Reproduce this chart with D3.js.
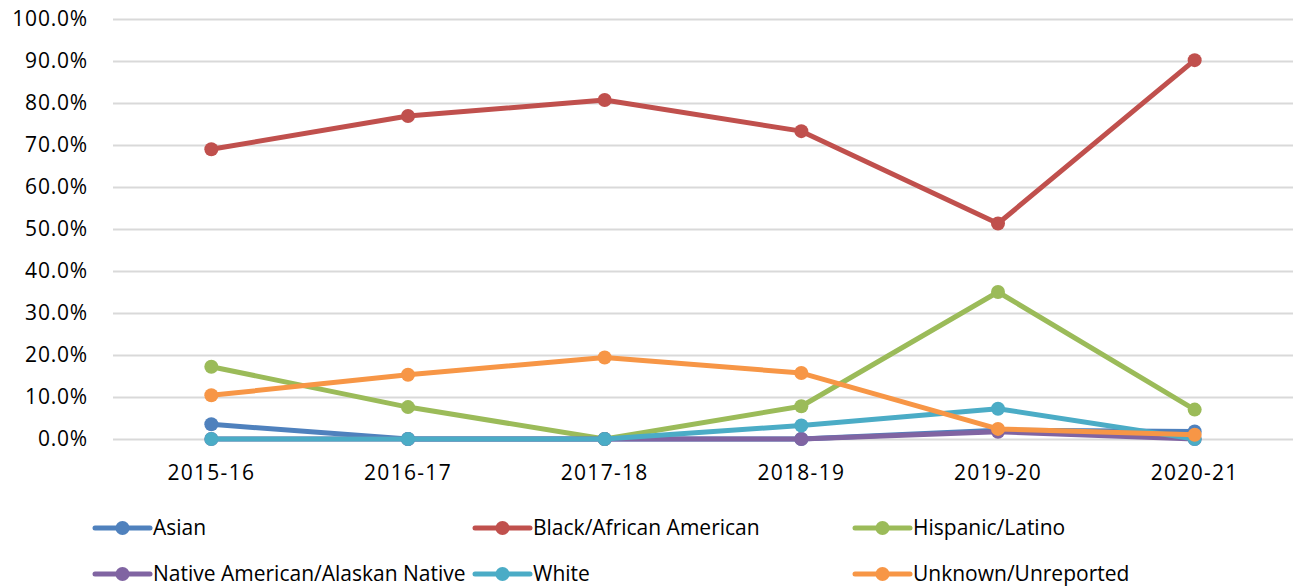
<!DOCTYPE html>
<html>
<head>
<meta charset="utf-8">
<script src="https://cdn.jsdelivr.net/npm/d3@7/dist/d3.min.js"></script>
<style>
  body { margin: 0; background: #fff; }
  #chart text { font-family: "Open Sans", Lato, sans-serif; fill: #000; }
  .grid line { stroke: #d9d9d9; stroke-width: 2; }
  .grid path { display: none; }
</style>
</head>
<body>
<div id="chart"></div>
<script>
const years = ['2015-16', '2016-17', '2017-18', '2018-19', '2019-20', '2020-21'];
const asian = [3.5, 0, 0, 0, 2.1, 1.8];
const black = [69.0, 76.9, 80.7, 73.3, 51.3, 90.2];
const hispanic = [17.2, 7.6, 0, 7.8, 35.0, 7.0];
const native = [0, 0, 0, 0, 1.7, 0];
const white = [0, 0, 0, 3.2, 7.2, 0];
const unknown = [10.4, 15.3, 19.4, 15.7, 2.4, 1.0];
const yTicks = [0, 10, 20, 30, 40, 50, 60, 70, 80, 90, 100];

const series = [
  { name: 'Asian', color: '#4f81bd', values: asian },
  { name: 'Black/African American', color: '#c0504d', values: black },
  { name: 'Hispanic/Latino', color: '#9bbb59', values: hispanic },
  { name: 'Native American/Alaskan Native', color: '#8064a2', values: native },
  { name: 'White', color: '#4bacc6', values: white },
  { name: 'Unknown/Unreported', color: '#f79646', values: unknown },
];

const width = 1294, height = 587;
const M = { top: 19, left: 113, right: 1, bottom: 148 };
const innerW = width - M.left - M.right;
const innerH = height - M.top - M.bottom;

const svg = d3.select('#chart').append('svg')
  .attr('width', width).attr('height', height);
const g = svg.append('g').attr('transform', `translate(${M.left},${M.top})`);

const x = d3.scaleBand().domain(years).range([0, innerW]);
const y = d3.scaleLinear().domain([0, 100]).range([innerH, 0]);
const cx = (i) => x(years[i]) + x.bandwidth() / 2;

g.append('g').attr('class', 'grid')
  .call(d3.axisLeft(y).tickValues(yTicks).tickSize(-innerW).tickFormat(''));

// y labels
g.selectAll('.ylab').data(yTicks).join('text')
  .attr('x', -25).attr('y', (d) => y(d)).attr('dy', '0.35em')
  .attr('text-anchor', 'end').style('font-size', '21px')
  .style('letter-spacing', '0.8px')
  .text((d) => d.toFixed(1) + '%');

// x labels
g.selectAll('.xlab').data(years).join('text')
  .attr('x', (d) => x(d) + x.bandwidth() / 2).attr('y', innerH + 34)
  .attr('dy', '0.35em')
  .attr('text-anchor', 'middle').style('font-size', '21px')
  .style('letter-spacing', '1.3px')
  .text((d) => d);

const line = d3.line().x((v, i) => cx(i)).y((v) => y(v));

series.forEach((s) => {
  g.append('path').datum(s.values)
    .attr('fill', 'none').attr('stroke', s.color)
    .attr('stroke-width', 5).attr('stroke-linejoin', 'round')
    .attr('d', line);
  g.selectAll(null).data(s.values).join('circle')
    .attr('cx', (v, i) => cx(i)).attr('cy', (v) => y(v))
    .attr('r', 7).attr('fill', s.color);
});

// legend
const legX = [95, 475, 855];
const legY = [528, 574];
const leg = svg.append('g');
series.forEach((s, i) => {
  const lx = legX[i % 3], ly = legY[Math.floor(i / 3)];
  const item = leg.append('g').attr('transform', `translate(${lx},${ly})`);
  item.append('line').attr('x1', 0).attr('x2', 55).attr('y1', 0).attr('y2', 0)
    .attr('stroke', s.color).attr('stroke-width', 5).attr('stroke-linecap', 'round');
  item.append('circle').attr('cx', 27.5).attr('cy', 0).attr('r', 7).attr('fill', s.color);
  item.append('text').attr('x', 58).attr('y', 0).attr('dy', '0.35em')
    .style('font-size', '21px').text(s.name);
});
</script>
</body>
</html>
